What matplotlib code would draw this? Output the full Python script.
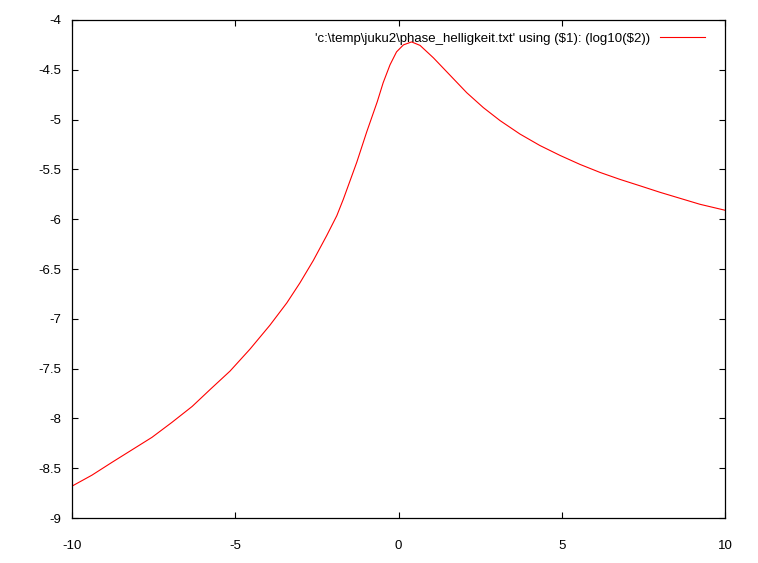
import matplotlib
matplotlib.use("Agg")
import matplotlib.pyplot as plt
from matplotlib.ticker import FuncFormatter

# values
phase = [-10.0, -9.39, -8.77, -8.16, -7.55, -6.94, -6.32, -5.77, -5.16, -4.55,
         -3.94, -3.42, -3.02, -2.61, -2.20, -1.89, -1.69, -1.28, -0.97, -0.65,
         -0.47, -0.26, -0.06, 0.15, 0.40, 0.66, 1.07, 1.58, 2.09, 2.60, 3.11,
         3.72, 4.33, 4.95, 5.56, 6.17, 6.78, 7.40, 8.01, 8.62, 9.23, 10.0]
log_hell = [-8.68, -8.57, -8.44, -8.315, -8.19, -8.04, -7.88, -7.71, -7.525, -7.305,
            -7.065, -6.84, -6.64, -6.415, -6.165, -5.965, -5.80, -5.43, -5.12, -4.82,
            -4.63, -4.45, -4.32, -4.25, -4.22, -4.255, -4.38, -4.555, -4.73, -4.88, -5.01,
            -5.145, -5.26, -5.36, -5.45, -5.53, -5.60, -5.665, -5.73, -5.79, -5.85, -5.91]
label = r"'c:\temp\juku2\phase_helligkeit.txt' using (\$1): (log10(\$2))"

plt.rcParams['font.family'] = ['Liberation Sans', 'DejaVu Sans']
plt.rcParams['axes.unicode_minus'] = False

fig = plt.figure(figsize=(7.58, 5.63), dpi=100)
ax = fig.add_axes([72 / 758, 1 - 518 / 563, 653 / 758, 498 / 563])

ax.plot(phase, log_hell, color='red', lw=0.8, label=label)

ax.set_xlim(-10, 10)
ax.set_ylim(-9, -4)
ax.set_xticks([-10, -5, 0, 5, 10])
ax.set_yticks([-9, -8.5, -8, -7.5, -7, -6.5, -6, -5.5, -5, -4.5, -4])
fmt = FuncFormatter(lambda v, p: '%g' % v)
ax.xaxis.set_major_formatter(fmt)
ax.yaxis.set_major_formatter(fmt)
ax.tick_params(direction='in', length=4, width=0.8, top=True, right=True, labelsize=9.5)
ax.tick_params(axis='y', pad=8)
ax.tick_params(axis='x', pad=15.5)
for s in ax.spines.values():
    s.set_linewidth(0.9)

ax.legend(loc='upper right', bbox_to_anchor=(0.984, 0.993), frameon=False,
          markerfirst=False, handlelength=3.4, handletextpad=0.75, fontsize=9.5,
          borderaxespad=0.3)

fig.savefig('out.png', dpi=100)
